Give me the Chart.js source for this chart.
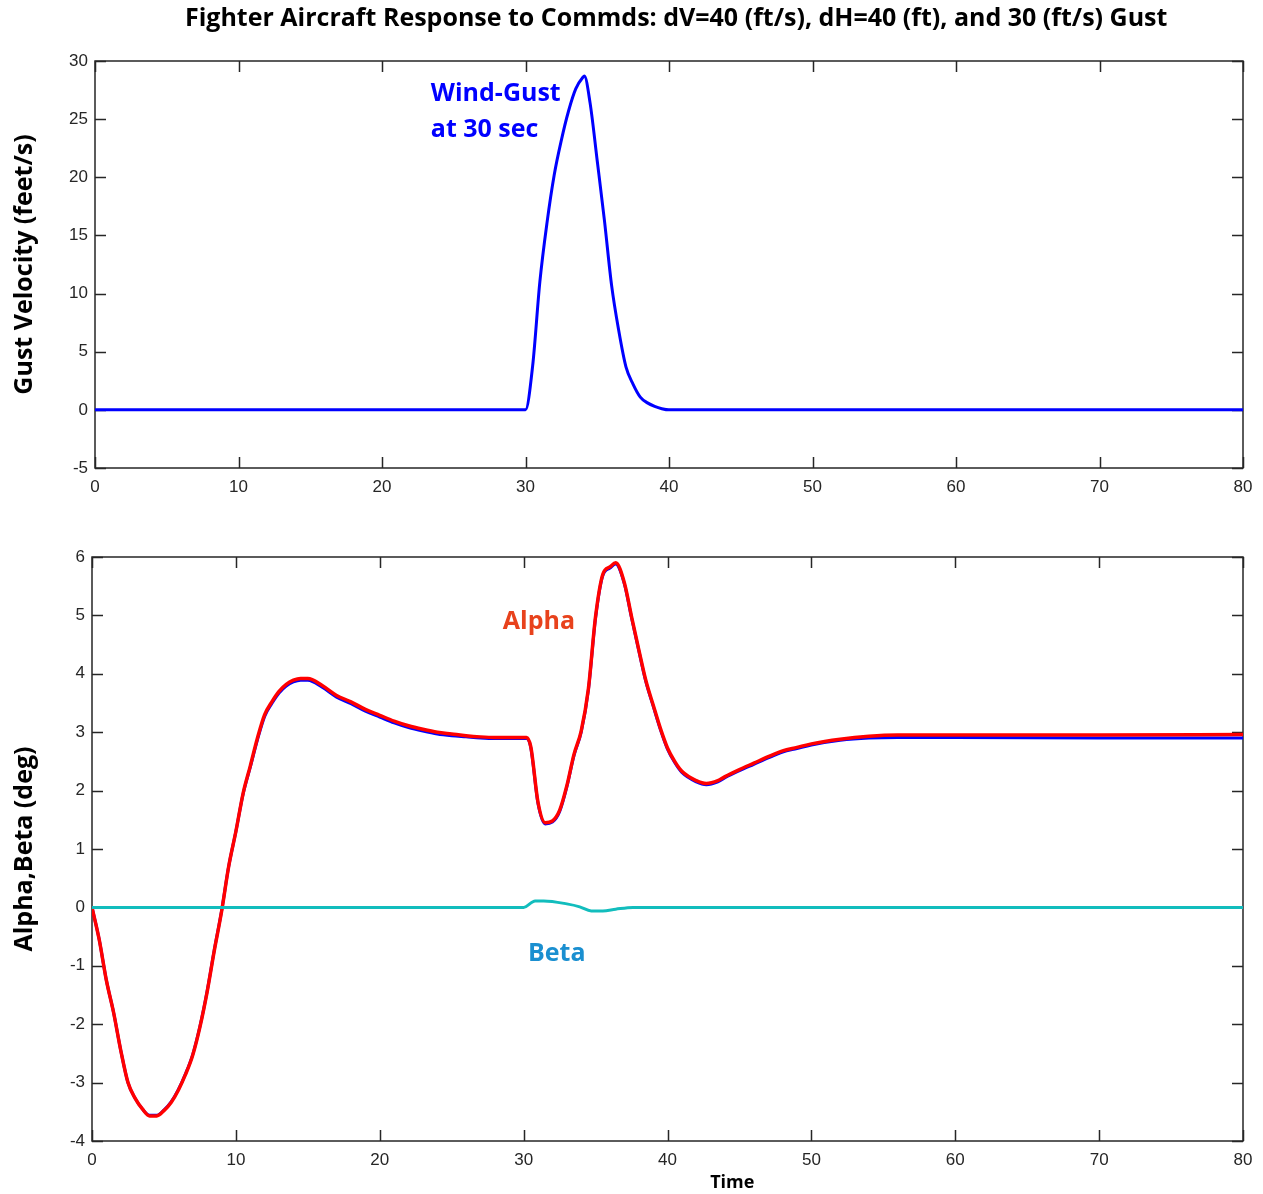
<!DOCTYPE html>
<html>
<head>
<meta charset="utf-8">
<title>Fighter Aircraft Response</title>
<script src="https://cdn.jsdelivr.net/npm/chart.js@4.4.1/dist/chart.umd.min.js"></script>
<style>
  html, body { margin: 0; padding: 0; background: #fff; }
  #wrap { position: relative; width: 1263px; height: 1194px; }
  #c1 { position: absolute; left: 0; top: 0; }
  #c2 { position: absolute; left: 0; top: 520px; }
</style>
</head>
<body>
<div id="wrap">
  <canvas id="c1" width="1263" height="520"></canvas>
  <canvas id="c2" width="1263" height="674"></canvas>
</div>
<script>
// gust velocity (ft/s) vs time (s)
const gustTime = [0, 30, 30.5, 31, 31.5, 32, 32.5, 33, 33.5, 34, 34.1, 34.5, 35, 35.5, 36, 36.5, 37, 37.5, 38, 38.5, 39, 39.5, 40, 80];
const gustVel  = [0, 0, 3.8, 11.0, 16.1, 20.2, 23.2, 25.7, 27.6, 28.6, 28.7, 26.4, 21.4, 16.3, 10.7, 6.8, 3.7, 2.2, 1.1, 0.6, 0.3, 0.1, 0, 0];

// angle of attack (deg)
const alphaTime = [0, 0.5, 1, 1.5, 2, 2.5, 3, 3.5, 4, 4.5, 5, 5.5, 6, 6.5, 7, 7.5, 8, 8.5, 9, 9.5,
  10, 10.5, 11, 11.5, 12, 12.5, 13, 13.5, 14, 14.5, 15, 16, 17, 18, 19, 20, 21, 22, 23, 24, 25, 26, 27, 28, 29, 30,
  30.2, 30.5, 31, 31.5, 32, 32.5, 33, 33.5, 34, 34.5, 35, 35.5, 36, 36.4, 37, 37.5, 38, 38.5, 39, 39.5,
  40, 40.5, 41, 42, 42.7, 43.5, 44, 45, 46, 47, 48, 49, 50, 52, 54, 56, 60, 70, 80];
const alphaRed = [0, -0.55, -1.25, -1.8, -2.45, -3.0, -3.27, -3.45, -3.57, -3.57, -3.48, -3.34, -3.13, -2.86, -2.53, -2.05, -1.45, -0.74, -0.08, 0.7,
  1.3, 1.95, 2.42, 2.9, 3.3, 3.52, 3.7, 3.82, 3.89, 3.92, 3.92, 3.8, 3.63, 3.52, 3.39, 3.29, 3.19, 3.11, 3.05, 3.0, 2.97, 2.94, 2.92, 2.91, 2.91, 2.91,
  2.91, 2.75, 1.8, 1.45, 1.48, 1.66, 2.08, 2.62, 3.02, 3.74, 4.98, 5.7, 5.83, 5.9, 5.56, 4.98, 4.42, 3.88, 3.47, 3.07,
  2.73, 2.5, 2.33, 2.17, 2.12, 2.17, 2.24, 2.36, 2.47, 2.58, 2.68, 2.74, 2.8, 2.88, 2.93, 2.95, 2.95, 2.95, 2.96];
const alphaBlue = [0, -0.55, -1.25, -1.8, -2.45, -3.0, -3.27, -3.45, -3.56, -3.56, -3.47, -3.33, -3.12, -2.85, -2.52, -2.04, -1.44, -0.73, -0.07, 0.7,
  1.3, 1.94, 2.4, 2.87, 3.27, 3.49, 3.67, 3.79, 3.86, 3.89, 3.89, 3.77, 3.6, 3.49, 3.36, 3.26, 3.16, 3.08, 3.02, 2.97, 2.94, 2.92, 2.9, 2.89, 2.89, 2.89,
  2.89, 2.73, 1.78, 1.43, 1.46, 1.64, 2.06, 2.6, 3.0, 3.72, 4.96, 5.68, 5.81, 5.88, 5.54, 4.96, 4.4, 3.86, 3.45, 3.05,
  2.71, 2.48, 2.31, 2.15, 2.1, 2.15, 2.22, 2.34, 2.45, 2.56, 2.66, 2.72, 2.78, 2.86, 2.9, 2.91, 2.91, 2.9, 2.9];

// sideslip (deg)
const betaTime = [0, 30, 30.8, 31.4, 33, 33.9, 34.7, 35.5, 36.4, 37.6, 80];
const betaVal  = [0, 0, 0.11, 0.11, 0.06, 0.01, -0.06, -0.06, -0.03, 0, 0];

const xTicks = [0, 10, 20, 30, 40, 50, 60, 70, 80];

const pts = (t, v) => t.map((x, i) => ({ x: x, y: v[i] }));

const tickFont = { family: '"Liberation Sans", Arial, sans-serif', size: 17 };
const boldFont = '"Open Sans", "Lato", sans-serif';
const ink = '#262626';

// MATLAB style box with inward tick marks on all four sides, plus text notes
const boxTicks = {
  id: 'boxTicks',
  beforeDatasetsDraw(chart) {
    const { ctx, chartArea: a, scales: { x, y } } = chart;
    ctx.save();
    ctx.strokeStyle = ink;
    ctx.lineWidth = 1.5;
    ctx.strokeRect(a.left, a.top, a.right - a.left, a.bottom - a.top);
    ctx.beginPath();
    x.ticks.forEach(t => {
      const px = Math.round(x.getPixelForValue(t.value)) + 0.5;
      ctx.moveTo(px, a.bottom); ctx.lineTo(px, a.bottom - 11);
      ctx.moveTo(px, a.top); ctx.lineTo(px, a.top + 11);
    });
    y.ticks.forEach(t => {
      const py = Math.round(y.getPixelForValue(t.value)) + 0.5;
      ctx.moveTo(a.left, py); ctx.lineTo(a.left + 11, py);
      ctx.moveTo(a.right, py); ctx.lineTo(a.right - 11, py);
    });
    ctx.stroke();
    ctx.restore();
  },
  afterDraw(chart, args, opts) {
    const { ctx, chartArea: a, scales: { x, y } } = chart;
    (opts.notes || []).forEach(n => {
      ctx.save();
      ctx.font = 'bold ' + n.size + 'px ' + boldFont;
      ctx.fillStyle = n.color;
      ctx.textAlign = n.align || 'left';
      ctx.textBaseline = 'middle';
      const px = x.getPixelForValue(n.x);
      let py;
      if (n.below) py = a.bottom + n.below;
      else if (n.above) py = a.top - n.above;
      else py = y.getPixelForValue(n.y);
      ctx.fillText(n.text, px, py);
      ctx.restore();
    });
  }
};

function xScale(height) {
  return {
    type: 'linear', min: 0, max: 80,
    afterBuildTicks: s => { s.ticks = xTicks.map(v => ({ value: v })); },
    afterFit: s => { s.height = height; },
    grid: { display: false, drawTicks: false },
    border: { display: false },
    ticks: { font: tickFont, color: ink, padding: 9, maxRotation: 0 }
  };
}

function yScale(min, max, step, width, title) {
  return {
    type: 'linear', min: min, max: max,
    afterFit: s => { s.width = width; },
    grid: { display: false, drawTicks: false },
    border: { display: false },
    ticks: { font: tickFont, color: ink, padding: 7, stepSize: step },
    title: {
      display: true, text: title, color: '#000',
      font: { family: boldFont, size: 25, weight: 'bold', lineHeight: 1.2 },
      padding: { top: 10, bottom: 0 }
    }
  };
}

const line = (label, t, v, color, width) => ({
  label: label, data: pts(t, v),
  borderColor: color, borderWidth: width,
  pointRadius: 0, fill: false, cubicInterpolationMode: 'monotone'
});

Chart.register(boxTicks);

new Chart(document.getElementById('c1'), {
  type: 'line',
  data: {
    datasets: [line('Gust', gustTime, gustVel, '#0000ff', 3)]
  },
  options: {
    responsive: false, animation: false,
    layout: { padding: { left: 0, right: 20, top: 61, bottom: 0 } },
    scales: {
      x: xScale(52),
      y: yScale(-5, 30, 5, 95, 'Gust Velocity (feet/s)')
    },
    plugins: {
      legend: { display: false },
      tooltip: { enabled: false },
      boxTicks: {
        notes: [
          { text: 'Fighter Aircraft Response to Commds: dV=40 (ft/s), dH=40 (ft), and 30 (ft/s) Gust',
            x: 40.5, above: 42, color: '#000', size: 25, align: 'center' },
          { text: 'Wind-Gust', x: 23.4, y: 27.2, color: '#0000ff', size: 25 },
          { text: 'at 30 sec', x: 23.4, y: 24.1, color: '#0000ff', size: 25 }
        ]
      }
    }
  }
});

new Chart(document.getElementById('c2'), {
  type: 'line',
  data: {
    datasets: [
      line('Beta', betaTime, betaVal, '#12bdbd', 3),
      line('Alpha', alphaTime, alphaRed, '#ff0000', 3.5),
      line('Alpha (ref)', alphaTime, alphaBlue, '#0000ff', 3)
    ]
  },
  options: {
    responsive: false, animation: false,
    layout: { padding: { left: 0, right: 20, top: 37, bottom: 0 } },
    scales: {
      x: xScale(53),
      y: yScale(-4, 6, 1, 92, 'Alpha,Beta (deg)')
    },
    plugins: {
      legend: { display: false },
      tooltip: { enabled: false },
      boxTicks: {
        notes: [
          { text: 'Alpha', x: 31.06, y: 4.89, color: '#e8421c', size: 25, align: 'center' },
          { text: 'Beta', x: 32.3, y: -0.8, color: '#1a8fd0', size: 25, align: 'center' },
          { text: 'Time', x: 44.5, below: 42, color: '#000', size: 18, align: 'center' }
        ]
      }
    }
  }
});
</script>
</body>
</html>
